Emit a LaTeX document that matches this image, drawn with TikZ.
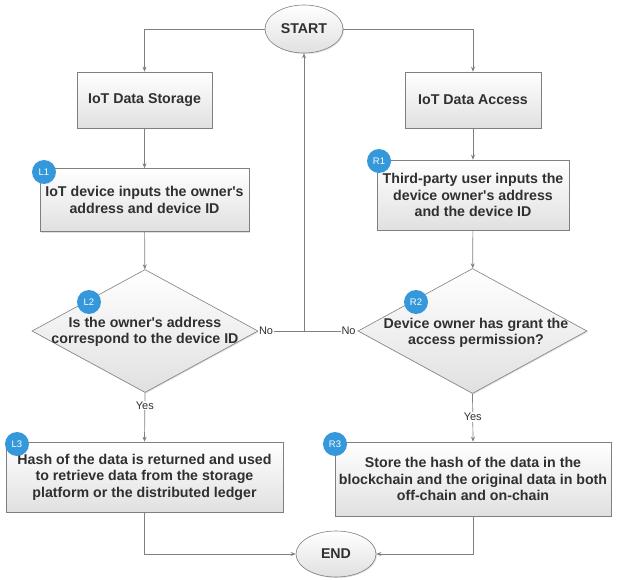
\documentclass[tikz,border=0pt]{standalone}
\usepackage{fontspec}
\setmainfont{Liberation Sans}
\usetikzlibrary{shapes.geometric,arrows.meta,shadows}
\definecolor{linegray}{HTML}{7F7F7F}
\definecolor{textgray}{HTML}{303030}
\definecolor{badgeblue}{HTML}{3498DB}
\tikzset{
  stepbox/.style={draw=linegray, line width=0.6pt, top color=white, bottom color=black!12,
    drop shadow={shadow xshift=1pt, shadow yshift=-1pt, opacity=0.25},
    inner sep=0pt, align=center, text=textgray, font=\fontsize{14.2}{16.5}\selectfont\bfseries},
  terminal/.style={stepbox, ellipse},
  decision/.style={stepbox, diamond},
  txt/.style={align=center, text=textgray, inner sep=0pt, font=\fontsize{14.2}{16.5}\selectfont\bfseries},
  badge/.style={circle, fill=badgeblue, text=white, minimum size=24pt, inner sep=0pt, font=\fontsize{9.5}{9.5}\selectfont},
  flow/.style={draw=linegray, line width=0.7pt},
  tag/.style={fill=white, inner sep=1pt, text=textgray, font=\fontsize{11}{11}\selectfont},
}
\begin{document}
\begin{tikzpicture}[x=1pt, y=-1pt, >={Stealth[length=5pt, width=4pt]}]
\useasboundingbox (0,0) rectangle (618,580);
% start and end
\node[terminal, minimum width=78pt, minimum height=48pt] (start) at (304,29) {START};
\node[terminal, minimum width=80pt, minimum height=46pt] (stop) at (336,554) {END};
% left column
\node[stepbox, minimum width=135pt, minimum height=56pt] (storage) at (144.5,100) {IoT Data Storage};
\node[stepbox, minimum width=209pt, minimum height=63pt] (l1) at (144.5,200) {IoT device inputs the owner\textquotesingle s\\address and device ID};
\node[decision, minimum width=226pt, minimum height=123pt] (l2) at (145,331) {};
\node[txt] (l2text) at (145,332) {Is the owner\textquotesingle s address\\correspond to the device ID};
\node[stepbox, minimum width=277pt, minimum height=70pt] (l3) at (144.5,477) {Hash of the data is returned and used\\to retrieve data from the storage\\platform or the distributed ledger};
% right column
\node[stepbox, minimum width=136pt, minimum height=56pt] (access) at (473,100) {IoT Data Access};
\node[stepbox, minimum width=192pt, minimum height=70pt] (r1) at (473,195) {Third-party user inputs the\\device owner\textquotesingle s address\\and the device ID};
\node[decision, minimum width=229pt, minimum height=125pt] (r2) at (472.5,331) {};
\node[txt] (r2text) at (476,333) {Device owner has grant the\\access permission?};
\node[stepbox, minimum width=276pt, minimum height=74pt] (r3) at (473,479) {Store the hash of the data in the\\blockchain and the original data in both\\off-chain and on-chain};
% badges
\node[badge] (bl1) at (44,172) {L1};
\node[badge] (bl2) at (89,302) {L2};
\node[badge] (bl3) at (17,444) {L3};
\node[badge] (br1) at (379,161) {R1};
\node[badge] (br2) at (416,302) {R2};
\node[badge] (br3) at (335,444) {R3};
% connectors
\draw[flow,->] (start.west) -| (storage.north);
\draw[flow,->] (start.east) -| (access.north);
\draw[flow,->] (storage) -- (l1);
\draw[flow,->] (access) -- (r1);
\draw[flow,->] (l1) -- (l2);
\draw[flow,->] (r1) -- (r2);
\draw[flow,->] (l2.south) -- node[tag, pos=0.26] (yesl) {Yes} (l3.north);
\draw[flow,->] (r2.south) -- node[tag, pos=0.48] (yesr) {Yes} (r3.north);
\coordinate (back) at (304,331);
\draw[flow,->] (back) -- (start.south);
\draw[flow,->] (back) -- node[tag, pos=0.83] (nol) {No} (l2.east);
\draw[flow,->] (back) -- node[tag, pos=0.83] (nor) {No} (r2.west);
\draw[flow,->] (l3.south) |- (stop.west);
\draw[flow,->] (r3.south) |- (stop.east);
\end{tikzpicture}
\end{document}
